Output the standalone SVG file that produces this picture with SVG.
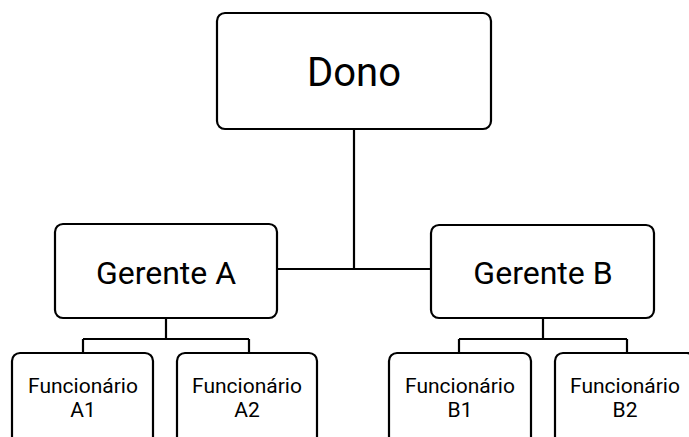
<svg xmlns="http://www.w3.org/2000/svg" width="689" height="437" viewBox="0 0 689 437">
<style>
.box{fill:#fff;stroke:#000;stroke-width:2.2}
.ln{fill:none;stroke:#000;stroke-width:2.2}
text{font-family:Roboto,"Liberation Sans",sans-serif;fill:#000;text-anchor:middle}
.t1{font-size:40px}
.t2{font-size:32px}
.t3{font-size:21px}
</style>
<rect width="689" height="437" fill="#fff"/>
<g id="connectors">
<path class="ln" d="M354 130V269M278 269H431"/>
<path class="ln" d="M166 319V339M83 339H249M83 339V353M249 339V353"/>
<path class="ln" d="M543 318V339M459 339H627M459 339V353M627 339V353"/>
</g>
<g id="dono">
<rect class="box" x="217" y="13" width="274" height="116" rx="8"/>
<text class="t1" x="354" y="86">Dono</text>
</g>
<g id="gerenteA">
<rect class="box" x="55" y="224" width="222" height="94" rx="8"/>
<text class="t2" x="166" y="284">Gerente A</text>
</g>
<g id="gerenteB">
<rect class="box" x="431" y="225" width="223" height="93" rx="8"/>
<text class="t2" x="543" y="284">Gerente B</text>
</g>
<g id="funcA1">
<rect class="box" x="12" y="353" width="141" height="110" rx="8"/>
<text class="t3" x="83" y="393">Funcionário</text>
<text class="t3" x="83" y="417">A1</text>
</g>
<g id="funcA2">
<rect class="box" x="177" y="353" width="140" height="110" rx="8"/>
<text class="t3" x="247" y="393">Funcionário</text>
<text class="t3" x="247" y="417">A2</text>
</g>
<g id="funcB1">
<rect class="box" x="389" y="353" width="142" height="110" rx="8"/>
<text class="t3" x="460" y="393">Funcionário</text>
<text class="t3" x="460" y="417">B1</text>
</g>
<g id="funcB2">
<rect class="box" x="555" y="353" width="140" height="110" rx="8"/>
<text class="t3" x="625" y="393">Funcionário</text>
<text class="t3" x="625" y="417">B2</text>
</g>
</svg>
